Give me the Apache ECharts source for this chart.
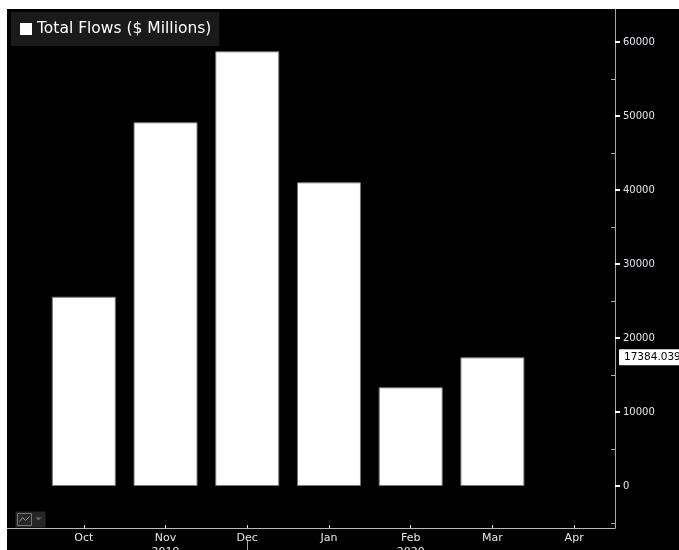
<!DOCTYPE html>
<html>
<head>
<meta charset="utf-8">
<script src="https://cdn.jsdelivr.net/npm/echarts@6/dist/echarts.min.js"></script>
<style>
  html, body { margin: 0; padding: 0; background: #fff; overflow: hidden; }
  #chart { position: absolute; left: 7px; top: 9px; width: 672px; height: 541px; background: #000; }
</style>
</head>
<body>
<div id="chart"></div>
<script>
// months on the x axis (Apr has no bar yet)
var months = ['Oct', 'Nov', 'Dec', 'Jan', 'Feb', 'Mar', 'Apr'];
var yearLabels = { 1: '2019', 4: '2020' };
// total flows, $ millions
var flows = [25580, 49150, 58740, 41040, 13340, 17384.0391];
var lastValue = 17384.0391;
var yTicks = [0, 10000, 20000, 30000, 40000, 50000, 60000];
var yMinorTicks = [-5000, 5000, 15000, 25000, 35000, 45000, 55000];

var chart = echarts.init(document.getElementById('chart'));
var font = 'DejaVu Sans';

var barData = flows.map(function (v, i) { return [i, v]; });
var monthIdx = months.map(function (m, i) { return i; });

var option = {
    backgroundColor: '#000',
    animation: false,
    textStyle: { fontFamily: font },
    grid: { left: 0, right: 64, top: 0, bottom: 22, outerBoundsMode: 'none', containLabel: false },
    legend: {
        left: 4,
        top: 3,
        backgroundColor: '#1a1a1a',
        padding: [9, 8, 9, 9],
        itemWidth: 12,
        itemHeight: 12,
        itemGap: 4,
        icon: 'rect',
        itemStyle: { borderWidth: 0, color: '#fff' },
        textStyle: { color: '#fff', fontSize: 15.5, fontFamily: font },
        data: ['Total Flows ($ Millions)']
    },
    xAxis: [
        {
            type: 'value',
            min: -0.94,
            max: 6.5,
            splitLine: { show: false },
            axisLine: { show: true, onZero: false, lineStyle: { color: '#bbb', width: 1 } },
            axisTick: { show: true, inside: true, length: 3, customValues: monthIdx, lineStyle: { color: '#ddd' } },
            axisLabel: {
                customValues: monthIdx,
                margin: 3,
                color: '#e6e6e6',
                fontSize: 11,
                lineHeight: 14,
                fontFamily: font,
                formatter: function (v) {
                    var i = Math.round(v);
                    var s = months[i] || '';
                    if (yearLabels[i]) s += '\n' + yearLabels[i];
                    return s;
                }
            }
        },
        {
            // year separator tick below the labels
            type: 'value',
            min: -0.94,
            max: 6.5,
            position: 'bottom',
            offset: 12,
            splitLine: { show: false },
            axisLine: { show: false, onZero: false },
            axisTick: { show: true, length: 14, customValues: [2], lineStyle: { color: '#aaa' } },
            axisLabel: { show: false }
        }
    ],
    yAxis: [
        {
            type: 'value',
            position: 'right',
            min: -5676,
            max: 64459,
            splitLine: { show: false },
            axisLine: { show: true, onZero: false, lineStyle: { color: '#aaa', width: 1 } },
            axisTick: { show: true, length: 5, customValues: yTicks, lineStyle: { color: '#fff', width: 2 } },
            axisLabel: {
                customValues: yTicks,
                margin: 8,
                color: '#e2e8f0',
                fontSize: 10,
                fontFamily: font,
                formatter: function (v) { return String(v); }
            }
        },
        {
            type: 'value',
            position: 'right',
            min: -5676,
            max: 64459,
            splitLine: { show: false },
            axisLine: { show: false, onZero: false },
            axisTick: { show: true, inside: true, length: 4, customValues: yMinorTicks, lineStyle: { color: '#aaa' } },
            axisLabel: { show: false }
        }
    ],
    series: [
        {
            name: 'Total Flows ($ Millions)',
            type: 'bar',
            xAxisIndex: 0,
            yAxisIndex: 0,
            barWidth: 64,
            clip: false,
            itemStyle: { color: '#fff', borderColor: '#777', borderWidth: 1 },
            data: barData,
            markLine: {
                silent: true,
                symbol: ['none', 'none'],
                lineStyle: { color: 'rgba(0,0,0,0)', width: 1, type: 'solid' },
                label: {
                    show: true,
                    position: 'end',
                    distance: 4,
                    color: '#000',
                    backgroundColor: '#fff',
                    borderRadius: 1,
                    padding: [3, 3, 2, 5],
                    fontSize: 10.5,
                    fontFamily: font,
                    formatter: function () { return lastValue.toFixed(4); }
                },
                data: [{ yAxis: lastValue }]
            }
        }
    ],
    graphic: [
        {
            type: 'group',
            left: 8,
            top: 502,
            children: [
                { type: 'rect', shape: { x: 0, y: 0, width: 30, height: 16 }, style: { fill: '#262626' } },
                { type: 'rect', shape: { x: 2, y: 2, width: 14, height: 12 }, style: { fill: 'none', stroke: '#777', lineWidth: 1 } },
                { type: 'polyline', shape: { points: [[4, 10], [7, 6], [10, 9], [14, 5]] }, style: { fill: 'none', stroke: '#999', lineWidth: 1 } },
                { type: 'polygon', shape: { points: [[20, 6], [26, 6], [23, 9]] }, style: { fill: '#666' } }
            ]
        }
    ]
};

chart.setOption(option);
</script>
</body>
</html>
